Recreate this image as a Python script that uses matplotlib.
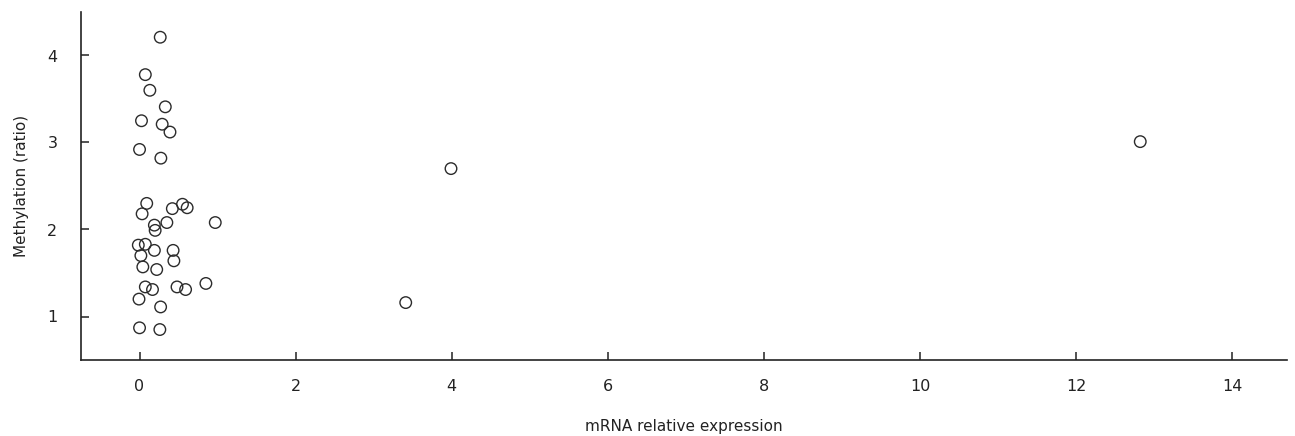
import matplotlib
matplotlib.use("Agg")
import matplotlib.pyplot as plt

# Data
mrna = [0.265, 0.074, 0.132, 0.33, 0.025, 0.29, 0.39, 0.0, 0.273,
        0.092, 0.033, 0.42, 0.55, 0.61, 0.19, 0.20, 0.35, 0.97,
        -0.016, 0.074, 0.017, 0.19, 0.43, 0.44, 0.042, 0.22,
        0.074, 0.166, 0.48, 0.59, 0.85, -0.007, 0.27, 0.0, 0.26,
        3.99, 3.41, 12.82]
methylation = [4.21, 3.78, 3.60, 3.41, 3.25, 3.21, 3.12, 2.92, 2.82,
               2.30, 2.18, 2.24, 2.29, 2.25, 2.05, 1.99, 2.08, 2.08,
               1.82, 1.83, 1.70, 1.76, 1.76, 1.64, 1.57, 1.54,
               1.34, 1.31, 1.34, 1.31, 1.38, 1.20, 1.11, 0.87, 0.85,
               2.70, 1.16, 3.01]
x_ticks = [0, 2, 4, 6, 8, 10, 12, 14]
y_ticks = [1, 2, 3, 4]

plt.rcParams['font.family'] = ['DejaVu Sans']

W, H = 1295, 436
fig = plt.figure(figsize=(W / 100, H / 100), dpi=100)
ax = fig.add_axes([81 / W, (H - 360) / H, (1287 - 81) / W, (360 - 12) / H])

ax.scatter(mrna, methylation, s=8.3 ** 2, facecolors='none',
           edgecolors='#2b2b2b', linewidths=1.0, zorder=3)

ax.set_xlim(-0.75, 14.7)
ax.set_ylim(0.5, 4.5)
ax.set_xticks(x_ticks)
ax.set_yticks(y_ticks)

for s in ['top', 'right']:
    ax.spines[s].set_visible(False)
for s in ['left', 'bottom']:
    ax.spines[s].set_linewidth(1.2)
    ax.spines[s].set_color('#222222')

ax.tick_params(direction='in', length=6, width=1.1, colors='#222222',
               labelsize=11.5, labelcolor='#222222', pad=14)
ax.tick_params(axis='y', pad=17)

ax.set_xlabel('mRNA relative expression', fontsize=11, color='#222222', labelpad=18)
ax.set_ylabel('Methylation (ratio)', fontsize=11, color='#222222', labelpad=13)

fig.savefig('out.png', dpi=100)
